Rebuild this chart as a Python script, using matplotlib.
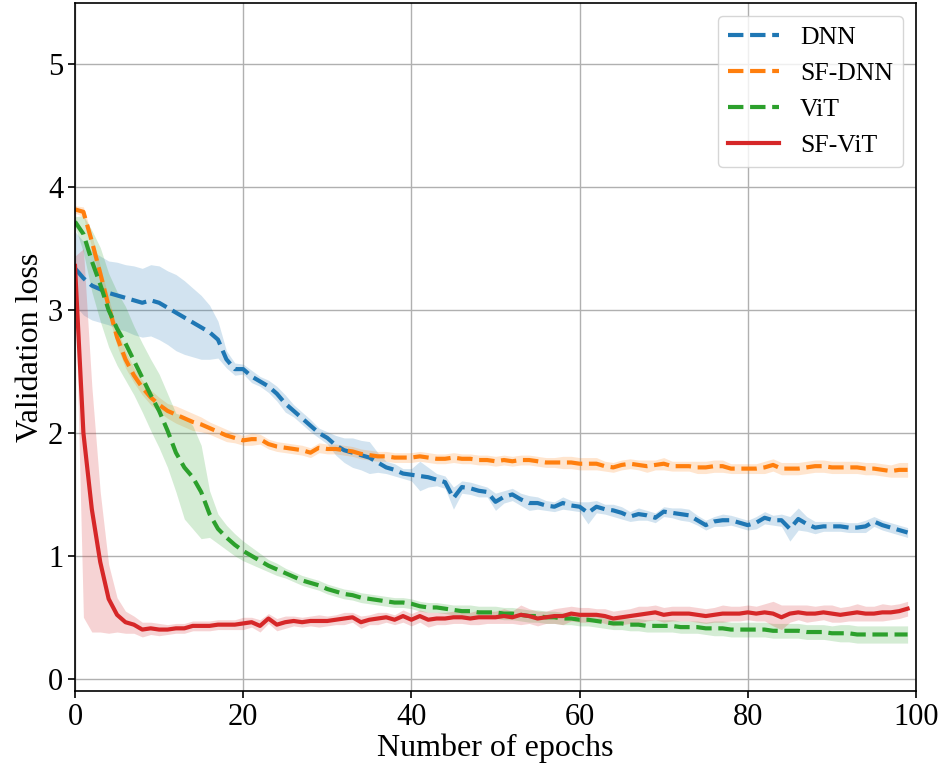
import numpy as np
import matplotlib
matplotlib.use('Agg')
import matplotlib.pyplot as plt

plt.rcParams['font.family'] = ['Liberation Serif', 'DejaVu Serif']

epochs = np.arange(100)

# mean validation loss per epoch
dnn = [3.34, 3.26, 3.20, 3.17, 3.14, 3.12, 3.10, 3.08, 3.06, 3.08,
       3.06, 3.02, 2.98, 2.94, 2.90, 2.86, 2.82, 2.76, 2.60, 2.52,
       2.52, 2.46, 2.42, 2.38, 2.32, 2.24, 2.18, 2.12, 2.06, 2.00,
       1.96, 1.90, 1.86, 1.84, 1.82, 1.80, 1.76, 1.72, 1.70, 1.67,
       1.66, 1.65, 1.64, 1.62, 1.60, 1.47, 1.56, 1.55, 1.53, 1.52,
       1.44, 1.48, 1.50, 1.46, 1.43, 1.43, 1.41, 1.40, 1.43, 1.41,
       1.40, 1.35, 1.40, 1.38, 1.37, 1.35, 1.32, 1.34, 1.33, 1.31,
       1.36, 1.35, 1.34, 1.33, 1.29, 1.25, 1.28, 1.29, 1.29, 1.27,
       1.25, 1.27, 1.31, 1.29, 1.29, 1.22, 1.30, 1.26, 1.23, 1.24,
       1.24, 1.24, 1.23, 1.23, 1.24, 1.28, 1.25, 1.23, 1.21, 1.19]
dnn_std = [0.30, 0.30, 0.28, 0.27, 0.26, 0.27, 0.27, 0.28, 0.28, 0.29,
           0.30, 0.30, 0.31, 0.30, 0.28, 0.26, 0.22, 0.15, 0.07, 0.05,
           0.04, 0.05, 0.04, 0.05, 0.06, 0.07, 0.05, 0.05, 0.05, 0.04,
           0.05, 0.08, 0.10, 0.12, 0.12, 0.13, 0.08, 0.05, 0.05, 0.04,
           0.05, 0.12, 0.08, 0.05, 0.05, 0.09, 0.05, 0.05, 0.05, 0.04,
           0.07, 0.05, 0.05, 0.05, 0.06, 0.05, 0.04, 0.04, 0.05, 0.04,
           0.04, 0.09, 0.05, 0.04, 0.05, 0.05, 0.04, 0.05, 0.04, 0.04,
           0.04, 0.04, 0.05, 0.05, 0.04, 0.04, 0.04, 0.05, 0.04, 0.04,
           0.04, 0.05, 0.05, 0.04, 0.05, 0.10, 0.09, 0.06, 0.05, 0.04,
           0.04, 0.04, 0.04, 0.04, 0.05, 0.04, 0.04, 0.04, 0.04, 0.04]

sf_dnn = [3.82, 3.80, 3.56, 3.30, 3.03, 2.78, 2.60, 2.47, 2.37, 2.29,
          2.23, 2.18, 2.15, 2.12, 2.09, 2.07, 2.04, 2.01, 1.98, 1.96,
          1.94, 1.95, 1.95, 1.91, 1.89, 1.88, 1.87, 1.86, 1.84, 1.88,
          1.87, 1.87, 1.86, 1.85, 1.83, 1.82, 1.81, 1.81, 1.80, 1.80,
          1.80, 1.81, 1.80, 1.79, 1.79, 1.80, 1.79, 1.79, 1.78, 1.78,
          1.77, 1.78, 1.77, 1.78, 1.78, 1.77, 1.76, 1.76, 1.76, 1.76,
          1.75, 1.75, 1.75, 1.73, 1.72, 1.74, 1.75, 1.74, 1.73, 1.74,
          1.75, 1.73, 1.73, 1.73, 1.72, 1.72, 1.73, 1.73, 1.71, 1.71,
          1.71, 1.71, 1.72, 1.74, 1.71, 1.71, 1.71, 1.72, 1.73, 1.73,
          1.72, 1.72, 1.72, 1.72, 1.71, 1.71, 1.70, 1.69, 1.70, 1.70]
sf_dnn_std = [0.03, 0.04, 0.05, 0.06, 0.07, 0.07, 0.07, 0.06, 0.06, 0.06,
              0.06, 0.06, 0.07, 0.07, 0.07, 0.06, 0.05, 0.05, 0.05, 0.04,
              0.04, 0.05, 0.04, 0.04, 0.04, 0.04, 0.04, 0.04, 0.04, 0.04,
              0.04, 0.04, 0.04, 0.04, 0.04, 0.04, 0.04, 0.04, 0.04, 0.04,
              0.04, 0.04, 0.04, 0.04, 0.04, 0.04, 0.04, 0.04, 0.04, 0.04,
              0.04, 0.04, 0.04, 0.04, 0.04, 0.04, 0.04, 0.04, 0.05, 0.05,
              0.05, 0.05, 0.05, 0.04, 0.04, 0.04, 0.04, 0.04, 0.05, 0.04,
              0.05, 0.04, 0.04, 0.04, 0.05, 0.05, 0.05, 0.05, 0.04, 0.04,
              0.04, 0.04, 0.05, 0.05, 0.05, 0.05, 0.05, 0.05, 0.05, 0.05,
              0.05, 0.05, 0.05, 0.05, 0.05, 0.05, 0.05, 0.05, 0.06, 0.06]

vit = [3.72, 3.62, 3.40, 3.21, 3.00, 2.85, 2.73, 2.59, 2.45, 2.31,
       2.18, 2.02, 1.84, 1.72, 1.64, 1.52, 1.34, 1.22, 1.15, 1.09,
       1.04, 1.00, 0.96, 0.92, 0.89, 0.86, 0.83, 0.80, 0.78, 0.76,
       0.73, 0.71, 0.69, 0.68, 0.66, 0.65, 0.64, 0.63, 0.62, 0.62,
       0.61, 0.59, 0.58, 0.58, 0.57, 0.56, 0.55, 0.55, 0.54, 0.54,
       0.54, 0.53, 0.53, 0.52, 0.51, 0.51, 0.50, 0.50, 0.49, 0.49,
       0.48, 0.48, 0.47, 0.46, 0.45, 0.45, 0.44, 0.44, 0.43, 0.43,
       0.43, 0.43, 0.42, 0.42, 0.42, 0.41, 0.41, 0.41, 0.40, 0.40,
       0.40, 0.40, 0.40, 0.39, 0.39, 0.39, 0.39, 0.38, 0.38, 0.38,
       0.37, 0.37, 0.37, 0.36, 0.36, 0.36, 0.36, 0.36, 0.36, 0.36]
vit_std = [0.04, 0.15, 0.25, 0.30, 0.30, 0.30, 0.30, 0.28, 0.28, 0.29,
           0.30, 0.30, 0.32, 0.42, 0.42, 0.38, 0.19, 0.12, 0.10, 0.09,
           0.08, 0.07, 0.06, 0.05, 0.05, 0.04, 0.04, 0.04, 0.04, 0.04,
           0.04, 0.04, 0.04, 0.04, 0.04, 0.04, 0.04, 0.04, 0.04, 0.04,
           0.04, 0.04, 0.04, 0.04, 0.04, 0.04, 0.05, 0.05, 0.05, 0.05,
           0.05, 0.05, 0.05, 0.05, 0.05, 0.05, 0.05, 0.05, 0.05, 0.05,
           0.05, 0.05, 0.05, 0.05, 0.05, 0.05, 0.05, 0.05, 0.05, 0.05,
           0.05, 0.05, 0.05, 0.05, 0.05, 0.05, 0.06, 0.06, 0.06, 0.06,
           0.06, 0.06, 0.06, 0.06, 0.06, 0.06, 0.06, 0.06, 0.06, 0.06,
           0.06, 0.07, 0.07, 0.07, 0.07, 0.07, 0.07, 0.07, 0.07, 0.07]

sf_vit = [3.36, 2.00, 1.38, 0.95, 0.65, 0.52, 0.46, 0.44, 0.40, 0.41,
          0.40, 0.40, 0.41, 0.41, 0.43, 0.43, 0.43, 0.44, 0.44, 0.44,
          0.45, 0.46, 0.43, 0.49, 0.44, 0.46, 0.47, 0.46, 0.47, 0.47,
          0.47, 0.48, 0.49, 0.50, 0.46, 0.48, 0.49, 0.50, 0.48, 0.51,
          0.48, 0.51, 0.48, 0.49, 0.49, 0.50, 0.50, 0.49, 0.50, 0.50,
          0.50, 0.51, 0.50, 0.52, 0.51, 0.49, 0.50, 0.51, 0.51, 0.53,
          0.52, 0.52, 0.52, 0.51, 0.49, 0.50, 0.51, 0.52, 0.53, 0.54,
          0.52, 0.53, 0.53, 0.53, 0.52, 0.51, 0.52, 0.53, 0.53, 0.53,
          0.54, 0.53, 0.54, 0.53, 0.50, 0.53, 0.54, 0.53, 0.53, 0.54,
          0.53, 0.52, 0.53, 0.54, 0.53, 0.53, 0.54, 0.54, 0.55, 0.57]
sf_vit_std = [0.08, 1.50, 1.00, 0.57, 0.28, 0.14, 0.09, 0.07, 0.06, 0.05,
              0.05, 0.04, 0.04, 0.04, 0.04, 0.04, 0.04, 0.04, 0.04, 0.04,
              0.05, 0.04, 0.05, 0.04, 0.05, 0.05, 0.04, 0.04, 0.04, 0.05,
              0.04, 0.04, 0.05, 0.04, 0.05, 0.04, 0.05, 0.04, 0.04, 0.05,
              0.05, 0.05, 0.06, 0.05, 0.05, 0.05, 0.05, 0.05, 0.06, 0.05,
              0.05, 0.06, 0.05, 0.08, 0.06, 0.06, 0.05, 0.06, 0.07, 0.06,
              0.06, 0.06, 0.05, 0.06, 0.06, 0.06, 0.06, 0.07, 0.06, 0.06,
              0.06, 0.06, 0.06, 0.06, 0.06, 0.06, 0.06, 0.07, 0.06, 0.06,
              0.06, 0.06, 0.07, 0.10, 0.10, 0.07, 0.06, 0.07, 0.06, 0.06,
              0.07, 0.06, 0.06, 0.07, 0.06, 0.06, 0.07, 0.06, 0.06, 0.06]

series = [
    ('DNN', dnn, dnn_std, 'tab:blue', '--'),
    ('SF-DNN', sf_dnn, sf_dnn_std, 'tab:orange', '--'),
    ('ViT', vit, vit_std, 'tab:green', '--'),
    ('SF-ViT', sf_vit, sf_vit_std, 'tab:red', '-'),
]

fig = plt.figure(figsize=(9.44, 7.73), dpi=100)
ax = fig.add_axes([75 / 944, 1 - 691 / 773, 841 / 944, 688 / 773])

for name, mean, std, color, ls in series:
    mean = np.array(mean)
    std = np.array(std)
    ax.plot(epochs, mean, ls, color=color, lw=3, label=name)
    ax.fill_between(epochs, mean - std, mean + std, color=color, alpha=0.2, lw=0)

ax.set_xlim(0, 100)
ax.set_ylim(-0.1, 5.5)
ax.set_xticks([0, 20, 40, 60, 80, 100])
ax.set_yticks([0, 1, 2, 3, 4, 5])
ax.tick_params(labelsize=22, length=5, width=1.2)
ax.grid(True, color='#b0b0b0', lw=1.0)
ax.set_axisbelow(True)
for sp in ax.spines.values():
    sp.set_linewidth(1.2)

ax.set_xlabel('Number of epochs', fontsize=23, labelpad=1)
ax.set_ylabel('Validation loss', fontsize=23, labelpad=2)
ax.legend(loc='upper right', fontsize=18.5, borderaxespad=0.5)

fig.savefig('out.png', dpi=100)
